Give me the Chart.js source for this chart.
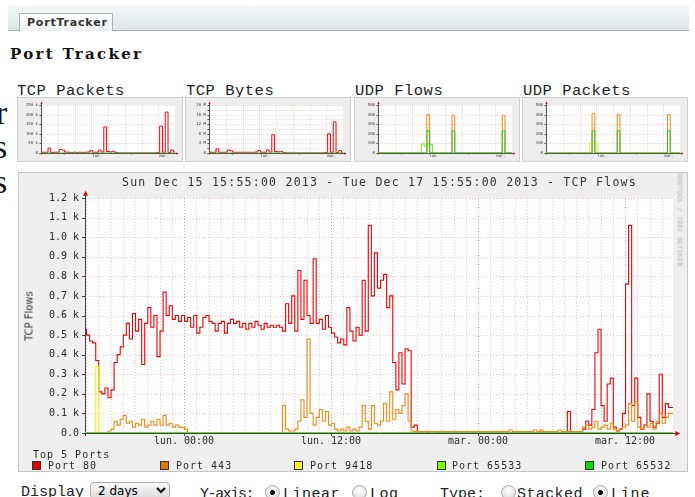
<!DOCTYPE html>
<html><head><meta charset="utf-8">
<script src="https://cdn.jsdelivr.net/npm/chart.js@4.4.1/dist/chart.umd.min.js"></script>
<style>
*{box-sizing:border-box}
html,body{margin:0;padding:0;background:#fff;}
body{width:695px;height:497px;overflow:hidden;position:relative;}
.a{position:absolute;white-space:nowrap;line-height:1;}
#tabbar{left:8px;top:5px;width:681px;height:26px;background:linear-gradient(#f5f8f8,#dde6e6);border-bottom:1px solid #a3b0b0;}
#tab{left:19px;top:13px;width:94px;height:18px;background:linear-gradient(#fdfdfd,#eef1f1);border:1px solid #a9b5b5;border-bottom:0;font:bold 11px 'DejaVu Sans';letter-spacing:0.8px;color:#333;padding:3px 0 0 7px;line-height:1;}
#heading{left:10px;top:45px;font:bold 15px 'DejaVu Serif';letter-spacing:2.3px;color:#111;}
.bg{font:34px 'Liberation Serif';color:#111;}
.ttl{font:15.5px 'Liberation Mono';letter-spacing:0.5px;color:#222;}
.thumb{width:166px;height:65px;background:#ededed;border:1px solid #cfcfcf;}
.tc{position:absolute;}
#mainbox{left:18px;top:172px;width:670px;height:300px;background:#efefef;border:1px solid #c6c6c6;}
.mono{font-family:'DejaVu Sans Mono';color:#2a2a2a;}
.sq{width:9px;height:9px;border:1px solid #333;}
.form{font:15px 'Liberation Mono';color:#222;}
select{position:absolute;left:90px;top:482px;width:80px;height:17px;font:12px 'DejaVu Sans';border:1px solid #b0b0b0;border-radius:4px;background:linear-gradient(#fafafa,#dcdcdc);padding:0 0 0 3px;}
input[type=radio]{position:absolute;appearance:none;-webkit-appearance:none;width:15px;height:15px;margin:0;border:1px solid #a8a8a8;border-radius:50%;background:radial-gradient(circle at 50% 35%,#fff,#d8d8d8);}
input[type=radio]:checked{background:radial-gradient(circle,#111 0 2.2px,transparent 2.6px),radial-gradient(circle at 50% 35%,#fff,#d8d8d8);}
</style></head>
<body>
<div id="tabbar" class="a"></div>
<div id="tab" class="a">PortTracker</div>
<div id="heading" class="a">Port Tracker</div>
<div class="a bg" style="left:-4px;top:94px;">r</div>
<div class="a bg" style="left:-6px;top:128px;">s</div>
<div class="a bg" style="left:-6px;top:163px;">s</div>

<div class="a ttl" style="left:17px;top:82px;">TCP Packets</div>
<div class="a ttl" style="left:186px;top:82px;">TCP Bytes</div>
<div class="a ttl" style="left:355px;top:82px;">UDP Flows</div>
<div class="a ttl" style="left:523px;top:82px;">UDP Packets</div>

<div class="a thumb" style="left:17px;top:97px;"></div>
<div class="a thumb" style="left:185px;top:97px;"></div>
<div class="a thumb" style="left:354px;top:97px;"></div>
<div class="a thumb" style="left:522px;top:97px;"></div>
<canvas id="t1" class="tc" width="166" height="65" style="left:17px;top:97px;"></canvas>
<canvas id="t2" class="tc" width="166" height="65" style="left:185px;top:97px;"></canvas>
<canvas id="t3" class="tc" width="166" height="65" style="left:354px;top:97px;"></canvas>
<canvas id="t4" class="tc" width="166" height="65" style="left:522px;top:97px;"></canvas>

<div id="mainbox" class="a"></div>
<canvas id="main" class="tc" width="670" height="299" style="left:18px;top:172px;"></canvas>
<div class="a mono" style="left:122px;top:177px;font-size:11.5px;letter-spacing:1.25px;color:#333;">Sun Dec 15 15:55:00 2013 - Tue Dec 17 15:55:00 2013 - TCP Flows</div>
<div class="a" style="left:29px;top:316px;transform:translate(-50%,-50%) rotate(-90deg);font:10px 'DejaVu Sans';color:#333;">TCP Flows</div>
<div class="a mono" style="left:679px;top:220px;transform:translate(-50%,-50%) rotate(90deg);font-size:7px;color:#b8b8b8;">RRDTOOL / TOBI OETIKER</div>
<div class="a mono" style="left:33px;top:450px;font-size:10px;letter-spacing:1px;">Top 5 Ports</div>
<div id="legend"></div>

<div class="a form" style="left:21px;top:484px;">Display</div>
<select><option>2 days</option></select>
<div class="a form" style="left:200px;top:486px;letter-spacing:-1.4px;">Y-axis:</div>
<input type="radio" name="ya" checked style="left:265px;top:485px;">
<div class="a form" style="left:283px;top:486px;letter-spacing:0.5px;">Linear</div>
<input type="radio" name="ya" style="left:352px;top:485px;">
<div class="a form" style="left:370px;top:486px;letter-spacing:0.5px;">Log</div>
<div class="a form" style="left:440px;top:486px;">Type:</div>
<input type="radio" name="ty" style="left:501px;top:485px;">
<div class="a form" style="left:517px;top:486px;letter-spacing:0.4px;">Stacked</div>
<input type="radio" name="ty" checked style="left:593px;top:485px;">
<div class="a form" style="left:611px;top:486px;letter-spacing:0.8px;">Line</div>

<script>
// ---------- main chart data: one value every 15 minutes, from Sun 15:55 (hour 0) to Tue 15:55 (hour 48)
const slotHours = 0.25;
const port80 = [
530,500,470,460,370,210,200,230,180,220,
360,400,440,500,560,480,610,520,580,350,
560,640,540,600,390,520,720,600,650,580,
600,570,600,570,590,540,600,510,540,590,
600,570,560,520,560,570,510,560,580,560,
570,540,560,530,560,540,570,550,530,560,
540,550,540,550,540,520,660,560,700,520,
830,580,780,600,560,890,560,580,530,600,
540,510,490,460,480,450,640,520,470,540,
500,780,520,1060,700,920,740,780,810,640,
700,360,220,410,250,430,420,30,40,5,
0,0,2,0,0,3,0,0,0,0,
0,0,0,0,0,0,0,0,0,0,
0,0,0,0,0,0,0,0,0,0,
5,0,0,0,0,0,0,0,0,5,
0,0,0,0,0,0,0,0,110,0,
0,0,0,20,60,40,120,410,530,140,
60,250,280,30,10,20,100,760,1060,140,
280,80,20,40,200,60,30,50,300,80,
150,130,130];
const port443 = [
0,0,0,0,0,0,0,0,10,20,
60,40,70,90,50,60,30,50,40,70,
30,40,60,40,70,40,90,40,50,30,
40,30,30,20,0,0,0,0,0,0,
0,0,0,0,0,0,0,0,0,0,
0,0,0,0,0,0,0,0,0,0,
0,0,0,0,0,140,20,10,10,20,
60,170,80,480,100,40,80,120,60,110,
40,50,20,10,20,10,30,10,20,10,
30,140,60,20,140,50,40,60,150,60,
210,70,120,100,140,200,60,10,8,8,
8,8,8,8,8,8,8,8,8,8,
8,8,8,8,8,8,8,8,8,8,
8,8,8,8,8,8,8,8,8,15,
8,8,8,8,8,8,8,15,8,15,
8,8,8,8,8,15,8,8,8,8,
8,8,8,30,40,20,30,60,20,30,
40,20,50,20,10,20,30,40,150,60,
160,30,20,40,30,50,20,60,100,50,
80,100,100];
const port9418 = [
0,0,0,0,340,0,0,0,0,0,
0,0,0,0,0,0,0,0,0,0, 0,0,0,0,0,0,0,0,0,0, 0,0,0,0,0,0,0,0,0,0,
0,0,0,0,0,0,0,0,0,0, 0,0,0,0,0,0,0,0,0,0, 0,0,0,0,0,0,0,0,0,0,
0,0,0,0,0,0,0,0,0,0, 0,0,0,0,0,0,0,0,0,0, 0,0,0,0,0,0,0,0,0,0,
0,0,0,0,0,0,0,0,0,0, 0,0,0,0,0,0,0,0,0,0, 0,0,0,0,0,0,0,0,0,0,
0,0,0,0,0,0,0,0,0,0, 0,0,0,0,0,0,0,0,0,0, 0,0,0,0,0,0,0,0,0,0,
0,0,0,0,0,0,0,0,0,0, 0,0,0,0,0,0,0,0,0,0, 0,0,0,0,0,0,0,0,0,0,
0,0,0];
const port65533 = [
0,0,0,0,0,0,0,0,0,0, 0,0,0,0,0,0,0,0,0,0, 0,0,0,0,0,0,0,0,0,0, 0,0,0,0,0,0,0,0,0,0,
0,0,0,0,0,0,0,0,0,0, 0,0,0,0,0,0,0,0,0,0, 0,0,0,0,0,0,0,0,0,0, 0,0,0,0,0,0,0,0,0,0,
0,0,0,0,0,0,0,0,0,0, 0,0,0,0,0,0,0,0,0,0, 0,0,0,0,0,0,0,0,0,0, 0,0,0,0,0,0,0,0,0,0,
0,0,0,0,0,0,0,0,0,0, 0,0,0,0,0,0,0,0,0,0, 0,0,0,0,0,0,0,0,0,0, 0,0,0,0,0,0,0,0,0,0,
0,0,0,0,0,0,0,0,0,0, 0,0,0,0,0,0,0,0,0,0, 0,0,0,0,0,0,0,0,0,0, 0,0,0];
const port65532 = [
0,0,0,0,0,0,0,0,0,0, 0,0,0,0,0,0,0,0,0,0, 0,0,0,0,0,0,0,0,0,0, 0,0,0,0,0,0,0,0,0,0,
0,0,0,0,0,0,0,0,0,0, 0,0,0,0,0,0,0,0,0,0, 0,0,0,0,0,0,0,0,0,0, 0,0,0,0,0,0,0,0,0,0,
0,0,0,0,0,0,0,0,0,0, 0,0,0,0,0,0,0,0,0,0, 0,0,0,0,0,0,0,0,0,0, 0,0,0,0,0,0,0,0,0,0,
0,0,0,0,0,0,0,0,0,0, 0,0,0,0,0,0,0,0,0,0, 0,0,0,0,0,0,0,0,0,0, 0,0,0,0,0,0,0,0,0,0,
0,0,0,0,0,0,0,0,0,0, 0,0,0,0,0,0,0,0,0,0, 0,0,0,0,0,0,0,0,0,0, 0,0,0];
const seriesNames = ['Port 80','Port 443','Port 9418','Port 65533','Port 65532'];
const xTickHours = [8 + 5/60, 20 + 5/60, 32 + 5/60, 44 + 5/60];
const xTickLabels = ['lun. 00:00','lun. 12:00','mar. 00:00','mar. 12:00'];
const yTickValues = [0,100,200,300,400,500,600,700,800,900,1000,1100,1200];
const yTickLabels = ['0.0','0.1 k','0.2 k','0.3 k','0.4 k','0.5 k','0.6 k','0.7 k','0.8 k','0.9 k','1.0 k','1.1 k','1.2 k'];

// ---------- thumbnail data: one value per hour (hour 0 .. 48)
const thumbHours = 1;
const tcpPktsTop = [5000,4000,4000,25000,3000,4000,4000,18000,15000,5000,4000,3000,4000,3000,4000,3000,4000,5000,12000,4000,4000,15000,5000,136000,8000,6000,9000,3000,0,0,0,0,0,0,0,0,0,0,0,0,0,0,3000,140000,4000,213000,3000,16000,5000];
const tcpBytesTop = [400000,300000,300000,1700000,300000,300000,300000,1300000,900000,300000,300000,300000,300000,300000,300000,300000,300000,400000,1000000,300000,300000,1300000,400000,7600000,600000,500000,600000,200000,0,0,0,0,0,0,0,0,0,0,0,0,0,0,200000,8000000,300000,13000000,200000,1000000,300000];
const udpFlowsSecond = [0,0,0,0,0,0,0,0,0,0,0,0,0,0,0,0,0,0,404,0,0,0,0,0,0,0,0,393,0,0,0,0,0,0,0,0,0,0,0,0,0,0,0,0,0,393,0,0,0];
const udpFlowsFourth = [0,0,0,0,0,0,0,0,0,0,0,0,0,0,0,0,95,70,95,90,0,0,0,0,0,0,0,0,0,0,0,0,0,0,0,0,0,0,0,0,0,0,0,0,0,0,0,0,0];
const udpFlowsFifth = [0,0,0,0,0,0,0,0,0,0,0,0,0,0,0,0,0,0,232,0,0,0,0,0,0,0,0,232,0,0,0,0,0,0,0,0,0,0,0,0,0,0,0,0,0,232,0,0,0];
const udpPktsSecond = [0,0,0,0,0,0,0,0,0,0,0,0,0,0,0,0,0,410,0,0,0,0,0,0,0,0,400,0,0,0,0,0,0,0,0,0,0,0,0,0,0,0,0,0,400,0,0,0,0];
const udpPktsThird = [0,0,0,0,0,0,0,0,0,0,0,0,0,0,0,0,100,100,100,0,0,0,0,0,0,0,0,0,0,0,0,0,0,0,0,0,0,0,0,0,0,0,0,0,0,0,0,0,0];
const udpPktsFifth = [0,0,0,0,0,0,0,0,0,0,0,0,0,0,0,0,0,232,0,0,0,0,0,0,0,0,232,0,0,0,0,0,0,0,0,0,0,0,0,0,0,0,0,0,232,0,0,0,0];
const thumbZero = [0,0,0,0,0,0,0,0,0,0,0,0,0,0,0,0,0,0,0,0,0,0,0,0,0,0,0,0,0,0,0,0,0,0,0,0,0,0,0,0,0,0,0,0,0,0,0,0,0];
const tcpPktsTicks = ['0','50 k','100 k','150 k','200 k','250 k'];
const tcpBytesTicks = ['0','2 M','4 M','6 M','8 M','10 M','12 M','14 M','16 M','18 M','20 M'];
const udpTicks = ['0','100','200','300','400','500'];
const thumbDayLabels = ['lun.','mar.'];
const thumbDayHours = [20 + 5/60, 44 + 5/60];

const colors = ['#f00000','#ee8a12','#f2f200','#7ae800','#2fbf2f'];
const legendColors = ['#e00000','#e07800','#ffff00','#80ff00','#00e000'];

function toPoints(arr, step){ return arr.map((v,i)=>({x:i*step, y:v})); }

// ---------- grid / axis drawing through the scales
const rrdGrid = {
  id:'rrdGrid',
  beforeDatasetsDraw(chart, args, o){
    const {ctx, chartArea:a, scales:{x,y}} = chart;
    ctx.save();
    ctx.fillStyle = '#fff';
    ctx.fillRect(a.left, a.top, a.right-a.left, a.bottom-a.top);
    ctx.lineWidth = 1;
    ctx.setLineDash(o.dash);
    ctx.strokeStyle = o.grid;
    for (const v of o.yLines){
      const py = Math.round(y.getPixelForValue(v))+0.5;
      ctx.beginPath(); ctx.moveTo(a.left, py); ctx.lineTo(a.right, py); ctx.stroke();
    }
    for (let h = o.firstHour; h <= x.max; h += o.hourStep){
      const px = Math.round(x.getPixelForValue(h))+0.5;
      ctx.strokeStyle = o.majorHours.some(m=>Math.abs(m-h)<1e-6) ? o.major : o.grid;
      ctx.beginPath(); ctx.moveTo(px, a.top); ctx.lineTo(px, a.bottom); ctx.stroke();
    }
    ctx.setLineDash([]);
    ctx.strokeStyle = o.axis;
    const x0 = Math.round(a.left)+0.5, y0 = Math.round(a.bottom)+0.5;
    ctx.beginPath(); ctx.moveTo(x0, a.bottom+o.tick); ctx.lineTo(x0, a.top-o.over); ctx.stroke();
    ctx.beginPath(); ctx.moveTo(a.left-o.tick, y0); ctx.lineTo(a.right+o.over, y0); ctx.stroke();
    for (const v of o.yLines){
      const py = Math.round(y.getPixelForValue(v))+0.5;
      ctx.beginPath(); ctx.moveTo(a.left-o.tick, py); ctx.lineTo(a.left, py); ctx.stroke();
    }
    for (const h of o.majorHours){
      const px = Math.round(x.getPixelForValue(h))+0.5;
      ctx.beginPath(); ctx.moveTo(px, a.bottom); ctx.lineTo(px, a.bottom+o.tick); ctx.stroke();
    }
    ctx.fillStyle = o.arrow;
    const s = o.arrowSize;
    ctx.beginPath(); ctx.moveTo(x0-s, a.top-o.over+s*1.5); ctx.lineTo(x0+s, a.top-o.over+s*1.5); ctx.lineTo(x0, a.top-o.over-s*0.5); ctx.fill();
    ctx.beginPath(); ctx.moveTo(a.right+o.over-s*1.5, y0-s); ctx.lineTo(a.right+o.over-s*1.5, y0+s); ctx.lineTo(a.right+o.over+s*0.5, y0); ctx.fill();
    ctx.restore();
  }
};

Chart.defaults.font.family = 'DejaVu Sans Mono';
Chart.defaults.animation = false;

const mainSeries = [port80, port443, port9418, port65533, port65532];
new Chart(document.getElementById('main'), {
  type:'line',
  data:{ datasets: mainSeries.map((arr,i)=>({
    label: seriesNames[i], data: toPoints(arr, slotHours), borderColor: colors[i],
    borderWidth: 1.1, pointRadius: 0, stepped:'middle', fill:false, order: 5-i
  }))},
  options:{
    responsive:false, devicePixelRatio:1, events:[],
    layout:{padding:{top:26,right:15,bottom:22,left:0}},
    plugins:{legend:{display:false}, tooltip:{enabled:false},
      rrdGrid:{dash:[1,2], grid:'rgba(235,120,120,0.45)', major:'rgba(225,70,70,0.6)', axis:'#404040', arrow:'#d01010',
        yLines: yTickValues, firstHour: 5/60, hourStep: 1, majorHours: xTickHours, tick:3, over:6, arrowSize:2.5}},
    scales:{
      x:{type:'linear', min:0, max:48,
        afterFit:s=>{s.height=16;},
        afterBuildTicks:s=>{s.ticks = xTickHours.map(v=>({value:v}));},
        ticks:{autoSkip:false, maxRotation:0, padding:2, font:{size:10}, color:'#2a2a2a',
          callback:(v,i)=>xTickLabels[i]},
        grid:{display:false, drawTicks:false}, border:{display:false}},
      y:{type:'linear', min:0, max:1200,
        afterFit:s=>{s.width=67;},
        afterBuildTicks:s=>{s.ticks = yTickValues.map(v=>({value:v}));},
        ticks:{padding:6, font:{size:10}, color:'#2a2a2a', callback:(v,i)=>yTickLabels[i]},
        grid:{display:false, drawTicks:false}, border:{display:false}}
    }
  },
  plugins:[rrdGrid]
});

// legend
const legendPos = [[32,48],[160,176],[294,310],[437,452],[585,601]];
const lg = document.getElementById('legend');
seriesNames.forEach((n,i)=>{
  const sq = document.createElement('div'); sq.className='a sq';
  sq.style.left=legendPos[i][0]+'px'; sq.style.top='461px'; sq.style.background=legendColors[i];
  lg.appendChild(sq);
  const t = document.createElement('div'); t.className='a mono';
  t.style.cssText='left:'+legendPos[i][1]+'px;top:461px;font-size:10px;letter-spacing:1px;';
  t.textContent = n; lg.appendChild(t);
});

// thumbnails
function thumb(id, series, cols, yMax, tickLabels){
  const step = yMax/(tickLabels.length-1);
  new Chart(document.getElementById(id), {
    type:'line',
    data:{datasets: series.map((arr,i)=>({data: toPoints(arr, thumbHours), borderColor: cols[i], borderWidth:1,
      pointRadius:0, stepped:'middle', order: series.length-i}))},
    options:{responsive:false, devicePixelRatio:1, events:[],
      layout:{padding:{top:8,right:8,bottom:4,left:0}},
      plugins:{legend:{display:false}, tooltip:{enabled:false},
        rrdGrid:{dash:[1,1], grid:'rgba(235,140,140,0.35)', major:'rgba(220,90,90,0.5)', axis:'#555', arrow:'#c02020',
          yLines: tickLabels.map((t,i)=>i*step), firstHour: 5/60, hourStep: 6, majorHours: [8+5/60, 32+5/60], tick:1.5, over:3, arrowSize:1.2}},
      scales:{
        x:{type:'linear', min:0, max:48, afterFit:s=>{s.height=5;},
          afterBuildTicks:s=>{s.ticks = thumbDayHours.map(v=>({value:v}));},
          ticks:{autoSkip:false, maxRotation:0, padding:1, font:{size:4}, color:'#444', callback:(v,i)=>thumbDayLabels[i]},
          grid:{display:false, drawTicks:false}, border:{display:false}},
        y:{type:'linear', min:0, max:yMax, afterFit:s=>{s.width=24;},
          afterBuildTicks:s=>{s.ticks = tickLabels.map((t,i)=>({value:i*step}));},
          ticks:{padding:3, font:{size:4}, color:'#444', callback:(v,i)=>tickLabels[i]},
          grid:{display:false, drawTicks:false}, border:{display:false}}
      }},
    plugins:[rrdGrid]
  });
}
thumb('t1', [tcpPktsTop, thumbZero], [colors[0], colors[4]], 250000, tcpPktsTicks);
thumb('t2', [tcpBytesTop, thumbZero], [colors[0], colors[4]], 20000000, tcpBytesTicks);
thumb('t3', [udpFlowsSecond, udpFlowsFourth, udpFlowsFifth], [colors[1], colors[3], colors[4]], 500, udpTicks);
thumb('t4', [udpPktsSecond, udpPktsThird, udpPktsFifth], [colors[1], colors[2], colors[4]], 500, udpTicks);
</script>
</body></html>
